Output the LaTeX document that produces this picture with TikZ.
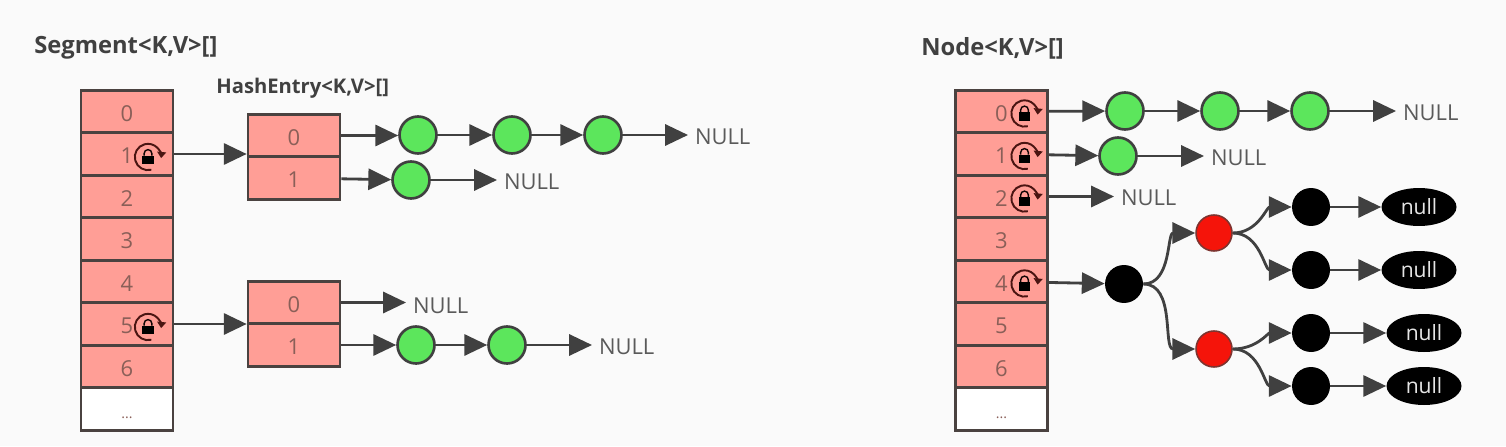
\documentclass[tikz,border=0pt]{standalone}
\usepackage{fontspec}
\setmainfont{Open Sans}
\usepackage{tikz}
\usetikzlibrary{shapes,arrows.meta,positioning,calc}

\definecolor{bgcol}{HTML}{FAFAFA}
\definecolor{cellcol}{HTML}{FF9E96}
\definecolor{linecol}{HTML}{4A4240}
\definecolor{arrowcol}{HTML}{404040}
\definecolor{digitcol}{HTML}{8A5F58}
\definecolor{greencol}{HTML}{5CE65C}
\definecolor{redcol}{HTML}{F5140A}
\definecolor{nullcol}{HTML}{5A5A5A}
\definecolor{lockcol}{HTML}{4A1512}

\begin{document}
\begin{tikzpicture}[
  x=0.02cm, y=-0.02cm,
  cell/.style={rectangle, draw=linecol, fill=cellcol, line width=1.5pt, minimum width=1.84cm,
    minimum height=0.85cm, inner sep=0pt, text height=11pt, text depth=0pt,
    font=\fontsize{12.5}{14}\selectfont, text=digitcol},
  dotcell/.style={cell, fill=white, font=\footnotesize},
  green/.style={circle, draw=arrowcol, fill=greencol, line width=1.5pt, minimum size=0.74cm, inner sep=0pt},
  redn/.style={circle, draw=linecol!70!redcol, fill=redcol, line width=0.9pt, minimum size=0.72cm, inner sep=0pt},
  blackn/.style={circle, fill=black, minimum size=0.76cm, inner sep=0pt},
  nulltext/.style={anchor=west, inner sep=0pt, outer sep=4pt, text=nullcol, font=\fontsize{12.5}{14}\selectfont},
  nullleaf/.style={ellipse, fill=black, minimum width=1.5cm, minimum height=0.76cm, inner sep=0pt,
    text=white!90!black, font=\fontsize{12}{14}\selectfont},
  title/.style={anchor=west, inner sep=0pt, text=arrowcol, font=\fontsize{13.5}{15}\selectfont\bfseries},
  subtitle/.style={anchor=west, inner sep=0pt, text=arrowcol, font=\fontsize{11.5}{13}\selectfont\bfseries},
  arrow/.style={-{Triangle[length=13pt, width=12pt]}, line width=1.6pt, draw=arrowcol},
  lockicon/.pic={
    \draw[lockcol, line width=1.1pt, -{Triangle[length=3.5pt, width=5pt]}]
      (285:7.5pt) arc[start angle=285, end angle=-5, radius=7.5pt];
    \fill[black] (-3.2pt,-4.2pt) rectangle (3.2pt,0.8pt);
    \draw[black!80!lockcol, line width=0.8pt] (-2.2pt,0.8pt) -- (-2.2pt,2pt) arc[start angle=180, end angle=0, radius=2.2pt] -- (2.2pt,0.8pt);
  },
]
\fill[bgcol] (0,0) rectangle (1506,446);
\useasboundingbox (0,0) rectangle (1506,446);

%% -- Titles --
\node[title] (segtitle)  at (34,48)   {Segment<K,V>[]};
\node[subtitle] (hashtitle) at (216,88)  {HashEntry<K,V>[]};
\node[title] (nodetitle) at (921,48)  {Node<K,V>[]};

%% -- Left array and right array --
\foreach \i in {0,...,6} {
  \node[cell] (sA\i) at (127,{111.5+42.5*\i}) {\i};
  \node[cell] (sB\i) at (1001.5,{111.5+42.5*\i}) {\i};
}
\node[dotcell] (sA7) at (127,409) {...};
\node[dotcell] (sB7) at (1001.5,409) {...};

%% -- HashEntry tables --
\node[cell] (hA0) at (294,135.5) {0};
\node[cell] (hA1) at (294,178) {1};
\node[cell] (hB0) at (294,302.5) {0};
\node[cell] (hB1) at (294,345) {1};

%% -- Locks --
\foreach \i in {1,5} \pic at ($(sA\i)+(21,3)$) {lockicon};
\foreach \i in {0,1,2,4} \pic at ($(sB\i)+(23,2)$) {lockicon};

%% -- Left chains --
\node[green] (a1) at (418,135) {};
\node[green] (a2) at (512,135) {};
\node[green] (a3) at (603,135) {};
\node[nulltext] (an) at (688,137) {NULL};
\node[green] (b1) at (411,180) {};
\node[nulltext] (bn) at (497,182) {NULL};
\node[nulltext] (cn) at (406,306) {NULL};
\node[green] (d1) at (416,345) {};
\node[green] (d2) at (507,345) {};
\node[nulltext] (dn) at (592,347) {NULL};

\draw[arrow] (sA1.east) -- (sA1.east -| hA0.west);
\draw[arrow] (sA5.east) -- (sA5.east -| hB0.west);
\draw[arrow] (hA0.east) -- (hA0.east -| a1.west);
\draw[arrow] (a1) -- (a2);
\draw[arrow] (a2) -- (a3);
\draw[arrow] (a3.east) -- (a3.east -| an.west);
\draw[arrow] (hA1) -- (b1);
\draw[arrow] (b1.east) -- (b1.east -| bn.west);
\draw[arrow] (hB0.east) -- (hB0.east -| cn.west);
\draw[arrow] (hB1) -- (d1);
\draw[arrow] (d1) -- (d2);
\draw[arrow] (d2.east) -- (d2.east -| dn.west);

%% -- Right chains --
\node[green] (e1) at (1125,111) {};
\node[green] (e2) at (1220,111) {};
\node[green] (e3) at (1310,111) {};
\node[nulltext] (en) at (1396,113) {NULL};
\node[green] (f1) at (1118,156) {};
\node[nulltext] (fn) at (1204,158) {NULL};
\node[nulltext] (gn) at (1114,198) {NULL};

\draw[arrow] (sB0) -- (e1);
\draw[arrow] (e1) -- (e2);
\draw[arrow] (e2) -- (e3);
\draw[arrow] (e3.east) -- (e3.east -| en.west);
\draw[arrow] (sB1) -- (f1);
\draw[arrow] (f1.east) -- (f1.east -| fn.west);
\draw[arrow] (sB2.east) -- (sB2.east -| gn.west);

%% -- Tree --
\node[blackn] (root) at (1124,284) {};
\node[redn] (r1) at (1214,233) {};
\node[redn] (r2) at (1214,349) {};
\node[blackn] (k1) at (1311,207) {};
\node[blackn] (k2) at (1311,270) {};
\node[blackn] (k3) at (1311,333) {};
\node[blackn] (k4) at (1311,386) {};
\node[nullleaf] (l1) at (1419,207) {null};
\node[nullleaf] (l2) at (1419,270) {null};
\node[nullleaf] (l3) at (1424,333) {null};
\node[nullleaf] (l4) at (1424,386) {null};

\draw[arrow] (sB4) -- (root);
\draw[arrow] (root.east) to[out=0, in=180] (r1.west);
\draw[arrow] (root.east) to[out=0, in=180] (r2.west);
\draw[arrow] (r1.east) to[out=0, in=180] (k1.west);
\draw[arrow] (r1.east) to[out=0, in=180] (k2.west);
\draw[arrow] (r2.east) to[out=0, in=180] (k3.west);
\draw[arrow] (r2.east) to[out=0, in=180] (k4.west);
\foreach \i in {1,2,3,4} \draw[arrow] (k\i) -- (l\i);
\end{tikzpicture}
\end{document}
